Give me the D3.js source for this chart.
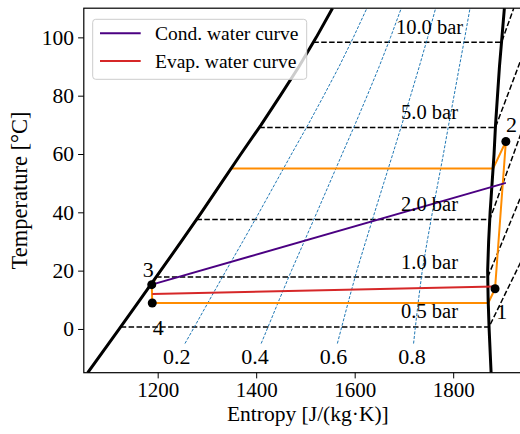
<!DOCTYPE html>
<html>
<head>
<meta charset="utf-8">
<script src="https://cdn.jsdelivr.net/npm/d3@7"></script>
<style>
  body { margin: 0; background: #fff; }
  text { font-family: "Liberation Serif", "Times New Roman", serif; fill: #000; }
</style>
</head>
<body>
<svg id="chart" width="520" height="434"></svg>
<script>
// Saturation dome of the refrigerant: temperature [°C] and entropy [J/(kg·K)]
const satT     = [-15, 0, 10, 20, 30, 40, 50, 60, 70, 80, 90, 100, 110];
const sLiquid  = [1058, 1122, 1164, 1206, 1248, 1289, 1329, 1369, 1410, 1449, 1487, 1522, 1555];
const sVapor   = [1877, 1873, 1871, 1870, 1872, 1875, 1879, 1883, 1886, 1890, 1894, 1899, 1904];

// Isobars: saturation temperature and entropy reached at 110 °C in the superheated region
const isobarNames = ["0.5 bar", "1.0 bar", "2.0 bar", "5.0 bar", "10.0 bar"];
const isobarTsat  = [0.7, 17.8, 37.5, 69.1, 98.3];
const isobarS110  = [2189, 2095, 2030, 1977, 1923];

// Vapour quality lines
const qualities = [0.2, 0.4, 0.6, 0.8];
const qualityLabels = ["0.2", "0.4", "0.6", "0.8"];

// Heat pump cycle state points
const stateNames = ["1", "2", "3", "4"];
const stateS = [1885, 1907, 1188, 1189];
const stateT = [13.8, 64.3, 15.2, 8.9];
const condensingT = 55.0;
const evaporatingT = 8.9;

// Secondary water streams
const condWaterS = [1188, 1907];
const condWaterT = [15.2, 50.1];
const evapWaterS = [1189, 1884];
const evapWaterT = [12.0, 14.6];

// Axis ticks
const xTicks = [1200, 1400, 1600, 1800];
const yTicks = [0, 20, 40, 60, 80, 100];

const svg = d3.select("#chart");
const plotLeft = 83.8, plotTop = 8.2, plotBottom = 372.7;
const x = d3.scaleLinear().domain([1050, 1960]).range([plotLeft, plotLeft + 910 * 0.4925]);
const y = d3.scaleLinear().domain([-15, 110]).range([plotBottom, plotTop]);
const plotRight = x.range()[1];

const sLAt = d3.scaleLinear().domain(satT).range(sLiquid);
const sVAt = d3.scaleLinear().domain(satT).range(sVapor);

svg.append("defs").append("clipPath").attr("id", "plotClip")
  .append("rect").attr("x", plotLeft).attr("y", plotTop)
  .attr("width", plotRight - plotLeft).attr("height", plotBottom - plotTop);

const plot = svg.append("g").attr("clip-path", "url(#plotClip)");
const line = d3.line().x(d => x(d[0])).y(d => y(d[1]));

// Isobars (dashed black)
isobarTsat.forEach((t, i) => {
  const pts = [[sLAt(t), t], [sVAt(t), t], [isobarS110[i], 110]];
  plot.append("path").attr("d", line(pts))
    .attr("fill", "none").attr("stroke", "#000")
    .attr("stroke-width", 1.5).attr("stroke-dasharray", "5.5,2.4");
});

// Quality lines (thin blue dashed)
qualities.forEach(q => {
  const ts = [-5].concat(satT.filter(t => t > -5));
  const pts = ts.map(t => [sLAt(t) + q * (sVAt(t) - sLAt(t)), t]);
  plot.append("path").attr("d", line(pts))
    .attr("fill", "none").attr("stroke", "#1f77b4")
    .attr("stroke-width", 1).attr("stroke-dasharray", "3,1.6");
});

// Cycle (orange)
const liquidPart = satT.filter(t => t < condensingT && t > stateT[2]).reverse()
  .map(t => [sLAt(t), t]);
const cyclePts = [
  [stateS[0], stateT[0]],
  [stateS[1], stateT[1]],
  [sVAt(condensingT), condensingT],
  [sLAt(condensingT), condensingT],
  ...liquidPart,
  [stateS[2], stateT[2]],
  [stateS[3], stateT[3]],
  [sVAt(evaporatingT), evaporatingT],
  [stateS[0], stateT[0]]
];
plot.append("path").attr("d", line(cyclePts))
  .attr("fill", "none").attr("stroke", "#ff8c00")
  .attr("stroke-width", 2).attr("stroke-linejoin", "round");

// Saturation dome
[sLiquid, sVapor].forEach(arr => {
  plot.append("path").attr("d", line(satT.map((t, i) => [arr[i], t])))
    .attr("fill", "none").attr("stroke", "#000").attr("stroke-width", 3);
});

// Water curves
const condColor = "#4b0082", evapColor = "#d62728";
plot.append("path").attr("d", line(condWaterS.map((s, i) => [s, condWaterT[i]])))
  .attr("fill", "none").attr("stroke", condColor).attr("stroke-width", 2);
plot.append("path").attr("d", line(evapWaterS.map((s, i) => [s, evapWaterT[i]])))
  .attr("fill", "none").attr("stroke", evapColor).attr("stroke-width", 2);

// State points
plot.selectAll("circle.state").data(stateS).join("circle")
  .attr("class", "state")
  .attr("cx", s => x(s)).attr("cy", (s, i) => y(stateT[i])).attr("r", 4.5).attr("fill", "#000");

// State labels
const stateLabelOffset = [[6.7, 30], [5.7, -9], [-3.4, -8], [6, 32]];
stateNames.forEach((n, i) => {
  svg.append("text").attr("x", x(stateS[i]) + stateLabelOffset[i][0])
    .attr("y", y(stateT[i]) + stateLabelOffset[i][1])
    .attr("text-anchor", "middle").attr("font-size", 22).text(n);
});

// Isobar labels
isobarNames.forEach((n, i) => {
  svg.append("text").attr("x", x(1752)).attr("y", y(isobarTsat[i]) - 8.5)
    .attr("text-anchor", "middle").attr("font-size", 20.5).text(n);
});

// Quality labels
qualities.forEach((q, i) => {
  const t = -10;
  svg.append("text").attr("x", x(sLAt(t) + q * (sVAt(t) - sLAt(t))))
    .attr("y", y(-9.5) + 7.3)
    .attr("text-anchor", "middle").attr("font-size", 22).text(qualityLabels[i]);
});

// Axes
const xAxis = svg.append("g").attr("transform", `translate(0,${plotBottom})`)
  .call(d3.axisBottom(x).tickValues(xTicks).tickFormat(d3.format("d")).tickSize(5.7).tickPadding(4));
const yAxis = svg.append("g").attr("transform", `translate(${plotLeft},0)`)
  .call(d3.axisLeft(y).tickValues(yTicks).tickFormat(d3.format("d")).tickSize(5.7).tickPadding(4));
[xAxis, yAxis].forEach(g => {
  g.select(".domain").remove();
  g.selectAll("line").attr("stroke", "#000").attr("stroke-width", 1);
  g.selectAll("text").attr("font-size", 21.5).attr("font-family", "Liberation Serif").attr("fill", "#000");
});
xAxis.selectAll("text").attr("font-size", 21);

// Spines
svg.append("rect").attr("x", plotLeft).attr("y", plotTop)
  .attr("width", plotRight - plotLeft).attr("height", plotBottom - plotTop)
  .attr("fill", "none").attr("stroke", "#000").attr("stroke-width", 1.2);

// Axis titles
svg.append("text").attr("x", (plotLeft + plotRight) / 2).attr("y", 421)
  .attr("text-anchor", "middle").attr("font-size", 21.5).text("Entropy [J/(kg·K)]");
svg.append("text").attr("transform", `translate(27,${(plotTop + plotBottom) / 2}) rotate(-90)`)
  .attr("text-anchor", "middle").attr("font-size", 22.5).text("Temperature [°C]");

// Legend
const legend = svg.append("g");
legend.append("rect").attr("x", 92.7).attr("y", 19.3).attr("width", 214).attr("height", 60)
  .attr("rx", 3).attr("fill", "#fff").attr("fill-opacity", 0.8)
  .attr("stroke", "#ccc").attr("stroke-width", 1);
const legendItems = [["Cond. water curve", condColor], ["Evap. water curve", evapColor]];
legendItems.forEach(([label, color], i) => {
  const ly = 33.3 + i * 27.7;
  legend.append("line").attr("x1", 100).attr("x2", 140.7).attr("y1", ly).attr("y2", ly)
    .attr("stroke", color).attr("stroke-width", 2);
  legend.append("text").attr("x", 155).attr("y", ly + 6.6).attr("font-size", 19.5).text(label);
});
</script>
</body>
</html>
